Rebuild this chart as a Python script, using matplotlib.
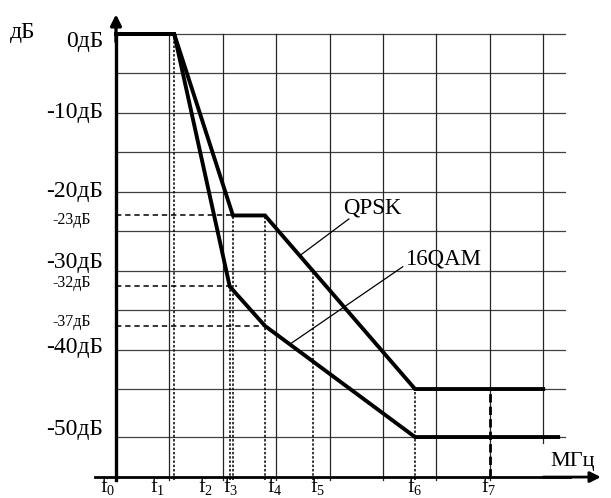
import numpy as np
import matplotlib
matplotlib.use("Agg")
import matplotlib.pyplot as plt

plt.rcParams['font.family'] = ['Liberation Serif', 'DejaVu Serif']
plt.rcParams['mathtext.fontset'] = 'custom'
plt.rcParams['mathtext.rm'] = 'Liberation Serif'
plt.rcParams['mathtext.it'] = 'Liberation Serif'

# ---- data ----
qpsk_x = [0, 1.09, 2.19, 2.79, 5.6, 8.0]
qpsk_y = [0, 0, -23, -23, -45, -45]
qam_x = [0, 1.09, 2.13, 2.79, 5.6, 8.28]
qam_y = [0, 0, -32, -37, -50, -50]

grid_db = [0, -5, -10, -15, -20, -25, -30, -35, -40, -45, -50]
grid_f = [1, 2, 3, 4, 5, 6, 7, 8]

ylabels = ['0дБ', '-10дБ', '-20дБ', '-30дБ', '-40дБ', '-50дБ']
ylabel_pos = [-1.0, -10, -20, -29.0, -39.7, -49.2]
small_labels = ['-23дБ', '-32дБ', '-37дБ']
small_levels = [-23, -32, -37]
small_ends = [2.19, 2.27, 2.79]
small_label_pos = [-23.6, -31.6, -36.5]

flabels = [r'$\mathrm{f}_0$', r'$\mathrm{f}_1$', r'$\mathrm{f}_2$', r'$\mathrm{f}_3$',
           r'$\mathrm{f}_4$', r'$\mathrm{f}_5$', r'$\mathrm{f}_6$', r'$\mathrm{f}_7$']
flabel_x = [-0.15, 0.77, 1.67, 2.15, 2.98, 3.78, 5.6, 6.98]

# dotted drop lines (x, top level)
drop_x = [1.09, 2.13, 2.19, 2.79, 3.69, 5.6]
drop_top = [0, -32, -23, -23, -30, -45]
f7_x = 7.0
f7_top = -45

# ---- piecewise y scale (drawing is stretched below -45 dB) ----
_db = [-100, -50, -45, 100]
_px = [-917.0, -437.0, -389.0, 754.9]


def fwd(y):
    return np.interp(y, _db, _px)


def inv(v):
    return np.interp(v, _px, _db)


fig = plt.figure(figsize=(6.11, 4.98), dpi=100)
ax = fig.add_axes([0, 0, 1, 1])
ax.set_yscale('function', functions=(fwd, inv))
ax.set_xlim(-116 / 53.4, (611 - 116) / 53.4)
ax.set_ylim(-56.35, 4.31)
ax.axis('off')

axis_bottom = -54.17

# grid
for g in grid_db:
    ax.plot([0, 8.4], [g, g], color='0.25', lw=0.9, zorder=1)
for g in grid_f:
    bottom = -50.6 if g == 8 else axis_bottom - 0.3
    ax.plot([g, g], [bottom, 0], color='0.15', lw=0.9, zorder=1)

# dashed horizontals
for lev, end in zip(small_levels, small_ends):
    ax.plot([0, end], [lev, lev], color='k', lw=1.1, ls=(0, (3.5, 2.5)), zorder=2)

# dotted verticals
for x, top in zip(drop_x, drop_top):
    ax.plot([x, x], [axis_bottom - 0.3, top], color='k', lw=1.1, ls=(0, (1.6, 1.2)), zorder=2)
ax.plot([f7_x, f7_x], [axis_bottom, f7_top], color='k', lw=2.0, ls=(0, (3, 1.5)), zorder=2)

# curves
ax.plot(qpsk_x, qpsk_y, color='k', lw=2.8, solid_joinstyle='miter', zorder=4)
ax.plot(qam_x, qam_y, color='k', lw=2.8, solid_joinstyle='miter', zorder=4)

# axes with arrows
ax.plot([0, 0], [axis_bottom - 0.35, 0], color='k', lw=2.4, zorder=5)
ax.annotate('', xy=(0, 2.5), xytext=(0, -1), zorder=5,
            arrowprops=dict(arrowstyle='-|>', lw=2.4, color='k', mutation_scale=16,
                            shrinkA=0, shrinkB=0))
ax.plot([-0.4, 8.5], [axis_bottom, axis_bottom], color='k', lw=2.0, zorder=5)
ax.annotate('', xy=(9.08, axis_bottom), xytext=(8.0, axis_bottom), zorder=5,
            arrowprops=dict(arrowstyle='-|>', lw=2.0, color='k', mutation_scale=16,
                            shrinkA=0, shrinkB=0))

# labels
for t, y in zip(ylabels, ylabel_pos):
    ax.text(-0.24, y, t, ha='right', va='center', fontsize=17)
for t, y in zip(small_labels, small_label_pos):
    ax.text(-0.48, y, t, ha='right', va='center', fontsize=11.5)
for t, x in zip(flabels, flabel_x):
    ax.text(x, 0.002, t, ha='center', va='bottom', fontsize=14.5,
            transform=ax.get_xaxis_transform())

ax.text(-1.985, 0.25, 'дБ', ha='left', va='center', fontsize=17)
ax.text(8.13, -52.6, 'МГц', ha='left', va='center', fontsize=16)
ax.text(4.25, -22.05, 'QPSK', ha='left', va='center', fontsize=16.5)
ax.text(5.41, -28.5, '16QAM', ha='left', va='center', fontsize=16.5)
ax.plot([4.36, 3.46], [-23.45, -28.0], color='k', lw=0.9, zorder=3)
ax.plot([5.37, 3.26], [-29.5, -39.3], color='k', lw=0.9, zorder=3)

fig.savefig('out.png', dpi=100)
